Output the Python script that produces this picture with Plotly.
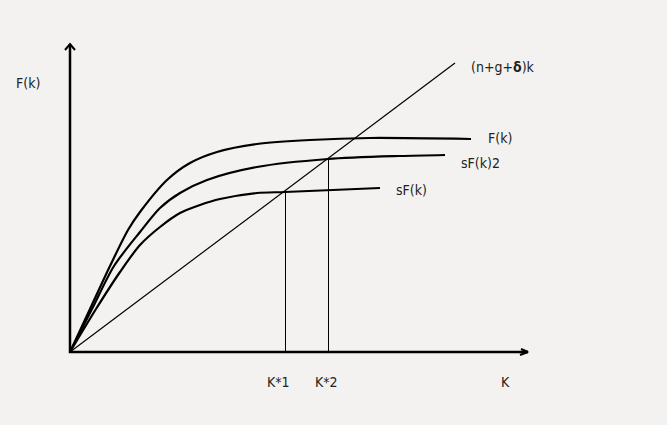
import plotly.graph_objects as go

# hand-drawn Solow diagram (1 unit ~ 1 px)
k_F = [0, 20, 40, 58, 70, 97, 120, 147, 187, 240, 300, 401]
y_F = [0, 43, 86, 122, 140, 172, 189, 200, 208, 212, 214, 213]

k_sF2 = [0, 22, 44, 70, 90, 110, 137, 187, 258, 330, 375]
y_sF2 = [0, 43, 86, 120, 144, 159, 172, 185, 193, 196, 197]

k_sF = [0, 26, 50, 70, 90, 110, 130, 150, 187, 215, 310]
y_sF = [0, 43, 80, 107, 125, 139, 147, 153, 159, 160, 164]

k_line = [0, 385]
y_line = [0, 289]

k_star = [215, 258]
k_star_y = [160, 193]
k_star_labels = ["K*1", "K*2"]

x_axis_end = 458
y_axis_end = 308

BG = "#f3f2f0"
INK = "black"
FONT = dict(family="DejaVu Sans Condensed, Liberation Sans Narrow, sans-serif", size=14, color="#222")

fig = go.Figure()

# axes
fig.add_trace(go.Scatter(x=[0, 0, x_axis_end], y=[y_axis_end, 0, 0], mode="lines",
                         line=dict(color=INK, width=2.5), hoverinfo="skip"))
# arrow heads
fig.add_trace(go.Scatter(x=[-5, 0, 5], y=[y_axis_end - 6, y_axis_end, y_axis_end - 6], mode="lines",
                         line=dict(color=INK, width=2), hoverinfo="skip"))
fig.add_trace(go.Scatter(x=[x_axis_end - 8, x_axis_end, x_axis_end - 7], y=[-3, 0, 3], mode="lines",
                         line=dict(color=INK, width=2), hoverinfo="skip"))

for kx, ky in [(k_F, y_F), (k_sF2, y_sF2), (k_sF, y_sF)]:
    fig.add_trace(go.Scatter(x=kx, y=ky, mode="lines", line=dict(color=INK, width=2.2, shape="spline", smoothing=0.8),
                             hoverinfo="skip"))

fig.add_trace(go.Scatter(x=k_line, y=y_line, mode="lines", line=dict(color=INK, width=1.2), hoverinfo="skip"))

for kx, ky in zip(k_star, k_star_y):
    fig.add_trace(go.Scatter(x=[kx + 0.5, kx + 0.5], y=[0, ky], mode="lines", line=dict(color=INK, width=1),
                             hoverinfo="skip"))

labels = [
    (-42, 269, "F(k)", "center"),
    (399, 285, "(n+g+<b>δ</b>)k", "left"),
    (416, 214, "F(k)", "left"),
    (389, 189, "sF(k)2", "left"),
    (324, 162, "sF(k)", "left"),
    (435, -30, "K", "center"),
]
for x, y, t, anchor in labels:
    fig.add_annotation(x=x, y=y, text=t, showarrow=False, xanchor=anchor, font=FONT)
for kx, t in zip(k_star, k_star_labels):
    fig.add_annotation(x=kx - 7 if t == "K*1" else kx - 2, y=-30, text=t, showarrow=False, font=FONT)

fig.update_layout(
    width=667, height=425,
    margin=dict(l=0, r=0, t=0, b=0),
    paper_bgcolor=BG, plot_bgcolor=BG,
    showlegend=False,
    xaxis=dict(range=[-70, 597], visible=False, fixedrange=True),
    yaxis=dict(range=[-73, 352], visible=False, fixedrange=True),
)

fig.write_html("out.html", config={"displayModeBar": False},
               post_script="document.body.style.margin='0';document.body.style.background='%s';" % BG)
